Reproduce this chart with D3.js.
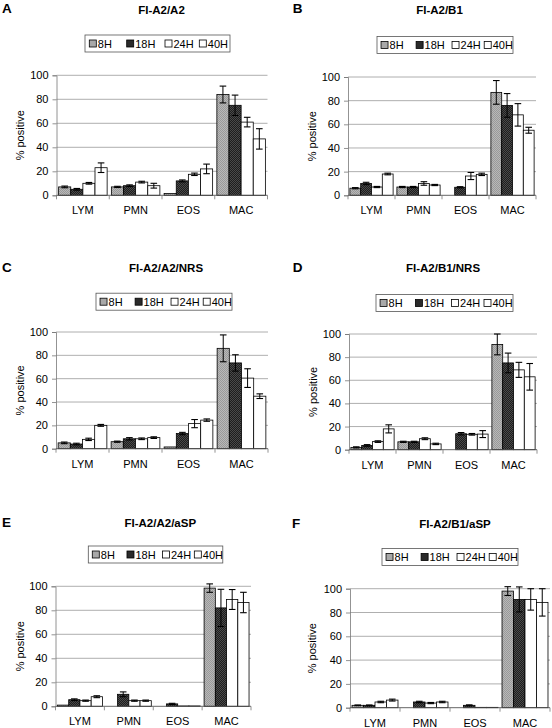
<!DOCTYPE html>
<html><head><meta charset="utf-8">
<script src="https://cdn.jsdelivr.net/npm/d3@7"></script>
<style>body{margin:0;background:#fff}</style>
</head><body>
<svg id="c" width="552" height="728"></svg>
<script>
// ---------- DATA ----------
const categories = ["LYM", "PMN", "EOS", "MAC"];
const series = ["8H", "18H", "24H", "40H"];
const yTicks = [0, 20, 40, 60, 80, 100];
const panelLetters = ["A", "B", "C", "D", "E", "F"];
const panelTitles = ["FI-A2/A2", "FI-A2/B1", "FI-A2/A2/NRS", "FI-A2/B1/NRS", "FI-A2/A2/aSP", "FI-A2/B1/aSP"];
const yAxisTitle = "% positive";

// values[category][series]
const valuesA = [[7, 5, 10, 23], [7, 8, 11, 8], [1.5, 12, 17.5, 22], [84, 75, 61, 47]];
const errorsA = [[0.7, 0.7, 0.7, 4], [0.5, 0.7, 0.7, 2], [0, 0.8, 1, 4], [7, 8.5, 4, 8.5]];
const valuesB = [[6, 10, 7, 18], [7, 7, 10, 8.7], [0, 6.8, 16.3, 17.7], [87, 76, 68, 55]];
const errorsB = [[0.5, 1, 0.5, 0.7], [0.5, 0.5, 1.5, 0.5], [0, 0.5, 3, 1], [10, 10, 9.5, 2.5]];
const valuesC = [[5, 4, 8, 20], [6, 8.5, 8.5, 9.5], [1.5, 13, 21.5, 24.5], [86, 73.5, 60.5, 45]];
const errorsC = [[0.7, 0.7, 1, 0.8], [0.5, 1, 0.7, 0.7], [0, 1, 3.5, 1], [11.5, 7, 8, 2]];
const valuesD = [[2, 3.7, 7, 18], [6.8, 6.8, 9.5, 5], [0, 13.8, 13.3, 13.5], [91, 75, 69, 63]];
const errorsD = [[0.5, 0.7, 0.7, 3.5], [0.5, 0.5, 0.8, 0.6], [0, 1, 0.7, 3], [9, 8.5, 6.5, 11.5]];
const valuesE = [[1, 5.5, 4.7, 8], [0, 10, 4.7, 4.7], [0, 2, 0.3, 0.3], [98.5, 82, 89, 86.5]];
const errorsE = [[0, 0.7, 0.5, 0.8], [0, 2, 0.5, 0.5], [0, 0.5, 0, 0], [3.5, 15.5, 8.3, 8.5]];
const valuesF = [[2, 2, 4.8, 6.4], [0, 4.8, 3.9, 4.8], [0, 2, 0.3, 0.3], [98, 91, 91, 88.5]];
const errorsF = [[0.3, 0.3, 0.6, 0.8], [0, 0.6, 0.5, 0.6], [0, 0.4, 0, 0], [3.7, 10.5, 9, 11.5]];

const panelValues = [valuesA, valuesB, valuesC, valuesD, valuesE, valuesF];
const panelErrors = [errorsA, errorsB, errorsC, errorsD, errorsE, errorsF];

// ---------- LAYOUT ----------
const layout = [
  {x0: 56.5, x1: 267.5, y0: 195.3, y1: 75.3, lx: 2, ly: 13.3, tx: 161.5, ty: 14, lgx: 85, lgy: 43.5, lgw: 145, ytx: 20},
  {x0: 348, x1: 536, y0: 195.3, y1: 77, lx: 292.7, ly: 13.3, tx: 439.5, ty: 14, lgx: 377, lgy: 45, lgw: 136, ytx: 312},
  {x0: 56, x1: 268, y0: 448.7, y1: 332, lx: 2, ly: 271.7, tx: 166, ty: 271.7, lgx: 96, lgy: 301.7, lgw: 136, ytx: 20},
  {x0: 349, x1: 537, y0: 449.7, y1: 334, lx: 292.7, ly: 271.7, tx: 443, ty: 271.7, lgx: 376, lgy: 303, lgw: 137, ytx: 313},
  {x0: 55.5, x1: 251, y0: 706.3, y1: 586.3, lx: 2, ly: 527.3, tx: 160.3, ty: 526.7, lgx: 88.3, lgy: 554.5, lgw: 134.5, ytx: 20},
  {x0: 350, x1: 550, y0: 707.7, y1: 588.7, lx: 292, ly: 528.3, tx: 455, ty: 528.3, lgx: 382, lgy: 557, lgw: 136, ytx: 312}
];

const FONT = "'Liberation Sans', Arial, sans-serif";
const svg = d3.select("#c");
const defs = svg.append("defs");

// stipple patterns
function makePattern(id, base, dot) {
  const p = defs.append("pattern").attr("id", id).attr("width", 2).attr("height", 2)
    .attr("patternUnits", "userSpaceOnUse");
  p.append("rect").attr("width", 2).attr("height", 2).attr("fill", base);
  p.append("rect").attr("width", 1).attr("height", 1).attr("fill", dot);
  p.append("rect").attr("x", 1).attr("y", 1).attr("width", 1).attr("height", 1).attr("fill", dot);
}
makePattern("pGray", "#b8b8b8", "#999999");
makePattern("pDark", "#1e1e1e", "#4a4a4a");
const fills = ["url(#pGray)", "url(#pDark)", "#ffffff", "#ffffff"];
const legendFills = ["#a8a8a8", "#2a2a2a", "#ffffff", "#ffffff"];

panelValues.forEach((vals, pi) => {
  const L = layout[pi];
  const errs = panelErrors[pi];
  const g = svg.append("g");

  const x = d3.scaleBand().domain(categories).range([L.x0, L.x1]).paddingInner(0).paddingOuter(0);
  const xs = d3.scaleBand().domain(series).range([0, x.bandwidth()]).paddingInner(0).paddingOuter(0.175);
  const y = d3.scaleLinear().domain([0, 100]).range([L.y0, L.y1]);

  // panel letter and title
  g.append("text").attr("x", L.lx).attr("y", L.ly).text(panelLetters[pi])
    .attr("font-family", FONT).attr("font-weight", "bold").attr("font-size", 13.5).attr("fill", "#000");
  g.append("text").attr("x", L.tx).attr("y", L.ty).text(panelTitles[pi])
    .attr("text-anchor", "middle").attr("font-family", FONT).attr("font-weight", "bold")
    .attr("font-size", 11.5).attr("fill", "#000");

  // legend
  const lgH = 17;
  const lg = g.append("g").attr("transform", `translate(${L.lgx},${L.lgy - lgH / 2})`);
  lg.append("rect").attr("width", L.lgw).attr("height", lgH).attr("fill", "#fff")
    .attr("stroke", "#555").attr("stroke-width", 0.8);
  const offs = [4.3, 41.7, 80, 114.3];
  series.forEach((s, si) => {
    const ox = offs[si] / 145 * L.lgw;
    lg.append("rect").attr("x", ox).attr("y", lgH / 2 - 3.5).attr("width", 7).attr("height", 7)
      .attr("fill", legendFills[si]).attr("stroke", "#000").attr("stroke-width", 0.8);
    lg.append("text").attr("x", ox + 8.5).attr("y", lgH / 2 + 4).text(s)
      .attr("font-family", FONT).attr("font-size", 11).attr("fill", "#000");
  });

  // gridlines
  g.append("g").selectAll("line").data(yTicks.filter(t => t > 0)).join("line")
    .attr("x1", L.x0).attr("x2", L.x1).attr("y1", d => y(d)).attr("y2", d => y(d))
    .attr("stroke", "#9a9a9a").attr("stroke-width", 0.8);

  // y axis
  const yAxis = g.append("g").attr("transform", `translate(${L.x0},0)`)
    .call(d3.axisLeft(y).tickValues(yTicks).tickSize(4).tickPadding(4).tickFormat(d3.format("d")));
  yAxis.select(".domain").attr("stroke", "#777").attr("stroke-width", 0.8);
  yAxis.selectAll(".tick line").attr("stroke", "#777").attr("stroke-width", 0.8);
  yAxis.selectAll("text").attr("font-family", FONT).attr("font-size", 11).attr("fill", "#000");

  // bars
  categories.forEach((c, ci) => {
    series.forEach((s, si) => {
      const v = vals[ci][si];
      const bx = x(c) + xs(s);
      const bw = xs.bandwidth();
      if (v > 0) {
        g.append("rect").attr("x", bx).attr("y", y(v)).attr("width", bw)
          .attr("height", y(0) - y(v)).attr("fill", fills[si])
          .attr("stroke", "#000").attr("stroke-width", 0.8);
      }
      const e = errs[ci][si];
      if (e > 0) {
        const cx = bx + bw / 2;
        const cw = 3.3;
        const lo = Math.max(0, v - e), hi = v + e;
        g.append("line").attr("x1", cx).attr("x2", cx).attr("y1", y(lo)).attr("y2", y(hi))
          .attr("stroke", "#000").attr("stroke-width", 1);
        g.append("line").attr("x1", cx - cw).attr("x2", cx + cw).attr("y1", y(hi)).attr("y2", y(hi))
          .attr("stroke", "#000").attr("stroke-width", 1.1);
        g.append("line").attr("x1", cx - cw).attr("x2", cx + cw).attr("y1", y(lo)).attr("y2", y(lo))
          .attr("stroke", "#000").attr("stroke-width", 1.1);
      }
    });
  });

  // x axis
  const xAxis = g.append("g").attr("transform", `translate(0,${L.y0})`);
  xAxis.append("line").attr("x1", L.x0).attr("x2", L.x1).attr("y1", 0).attr("y2", 0)
    .attr("stroke", "#555").attr("stroke-width", 0.9);
  const bounds = categories.map(c => x(c)).concat([L.x1]);
  xAxis.selectAll(".bt").data(bounds).join("line").attr("class", "bt")
    .attr("x1", d => d).attr("x2", d => d).attr("y1", 0).attr("y2", 4)
    .attr("stroke", "#777").attr("stroke-width", 0.8);
  xAxis.selectAll(".cl").data(categories).join("text").attr("class", "cl")
    .attr("x", d => x(d) + x.bandwidth() / 2).attr("y", 19).attr("text-anchor", "middle")
    .text(d => d).attr("font-family", FONT).attr("font-size", 11).attr("fill", "#000");

  // y axis title
  g.append("text").attr("transform", `translate(${L.ytx},${(L.y0 + L.y1) / 2}) rotate(-90)`)
    .attr("text-anchor", "middle").attr("dominant-baseline", "central").text(yAxisTitle)
    .attr("font-family", FONT).attr("font-size", 11).attr("fill", "#000");
});
</script>
</body></html>
